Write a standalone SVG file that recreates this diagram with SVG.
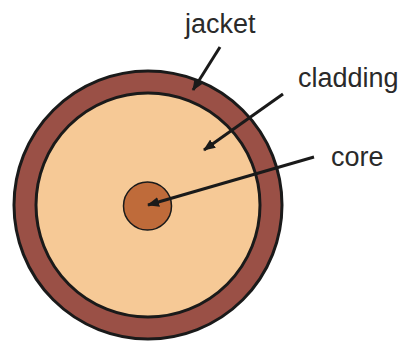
<svg xmlns="http://www.w3.org/2000/svg" width="403" height="342" viewBox="0 0 403 342">
<style>
.lbl{font-family:"Liberation Sans",Arial,sans-serif;font-size:27px;fill:#2a2a2a}
.arr{stroke:#1a1a1a;stroke-width:3;fill:none;marker-end:url(#ah)}
</style>
<defs>
<marker id="ah" viewBox="0 0 12 10" refX="11" refY="5" markerWidth="12" markerHeight="10" markerUnits="userSpaceOnUse" orient="auto">
<path d="M0,0 L12,5 L0,10 z" fill="#1a1a1a"/>
</marker>
</defs>
<rect width="403" height="342" fill="#fff"/>
<g id="jacket">
<circle cx="148" cy="205" r="134" fill="#9a5046" stroke="#1a1a1a" stroke-width="3"/>
</g>
<g id="cladding">
<circle cx="148" cy="205" r="112" fill="#f6c996" stroke="#1a1a1a" stroke-width="3"/>
</g>
<g id="core">
<circle cx="147.5" cy="206" r="24" fill="#bf6b3a" stroke="#1a1a1a" stroke-width="1.5"/>
</g>
<g id="labels">
<text class="lbl" x="185" y="33">jacket</text>
<text class="lbl" x="298" y="87">cladding</text>
<text class="lbl" x="331" y="166">core</text>
</g>
<g id="connectors">
<line class="arr" x1="220" y1="47" x2="193" y2="90"/>
<line class="arr" x1="283" y1="94" x2="204" y2="150"/>
<line class="arr" x1="314" y1="157" x2="148" y2="205"/>
</g>
</svg>
